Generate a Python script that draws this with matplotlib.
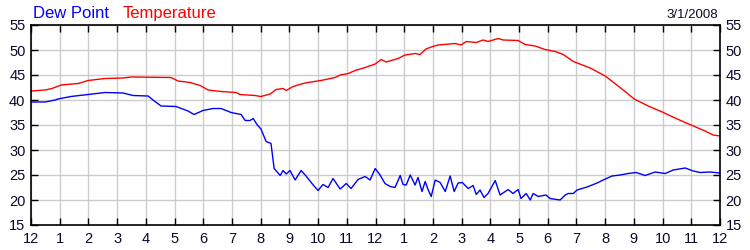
import matplotlib.pyplot as plt
plt.switch_backend('agg')

plt.rcParams['font.family'] = ['Liberation Sans', 'DejaVu Sans']

# Hours since midnight (0 = 12 AM, 24 = 12 AM next day) and readings in F
temp_hours = [0.0, 0.49, 0.73, 1.05, 1.64, 1.99, 2.58, 3.21, 3.48, 4.88, 5.12, 5.54, 5.89, 6.17,
              6.62, 7.14, 7.28, 7.80, 8.01, 8.33, 8.54, 8.78, 8.89, 9.13, 9.48, 9.65, 10.10,
              10.59, 10.77, 11.05, 11.29, 11.64, 11.99, 12.20, 12.37, 12.61, 12.79, 13.03,
              13.38, 13.55, 13.76, 13.94, 14.18, 14.77, 14.98, 15.16, 15.51, 15.75, 15.92,
              16.27, 16.45, 16.97, 17.21, 17.56, 17.91, 18.26, 18.54, 18.89, 19.48, 20.0,
              20.52, 21.01, 21.50, 21.99, 22.47, 22.99, 23.48, 23.76, 24.0]
temperature = [41.8, 42.0, 42.3, 43.0, 43.3, 43.9, 44.3, 44.4, 44.6, 44.5, 43.8, 43.5, 42.9, 42.0,
               41.7, 41.5, 41.1, 40.9, 40.7, 41.2, 42.1, 42.3, 41.9, 42.7, 43.3, 43.5, 43.9,
               44.5, 45.0, 45.3, 45.9, 46.5, 47.2, 48.1, 47.6, 48.0, 48.3, 49.0,
               49.3, 49.1, 50.2, 50.6, 51.0, 51.3, 51.0, 51.7, 51.5, 52.0, 51.7,
               52.3, 52.0, 51.9, 51.1, 50.8, 50.1, 49.7, 49.1, 47.7, 46.4, 44.8,
               42.5, 40.2, 38.8, 37.6, 36.3, 35.0, 33.8, 33.0, 32.8]

dew_hours = [0.0, 0.49, 0.84, 0.94, 1.39, 1.99, 2.58, 3.21, 3.55, 4.08, 4.25, 4.53, 5.05, 5.47,
             5.68, 5.99, 6.34, 6.62, 6.97, 7.14, 7.32, 7.46, 7.63, 7.74, 7.87, 8.01, 8.19,
             8.36, 8.47, 8.68, 8.78, 8.89, 9.02, 9.20, 9.41, 9.58, 9.83, 10.00, 10.17, 10.35,
             10.52, 10.77, 10.98, 11.15, 11.39, 11.64, 11.81, 11.99, 12.16, 12.33, 12.51,
             12.68, 12.86, 12.96, 13.07, 13.21, 13.38, 13.48, 13.62, 13.73, 13.83, 13.94,
             14.08, 14.25, 14.43, 14.60, 14.74, 14.88, 15.02, 15.23, 15.40, 15.51, 15.64,
             15.78, 15.92, 16.17, 16.34, 16.62, 16.79, 16.97, 17.07, 17.25, 17.39, 17.49,
             17.67, 17.94, 18.08, 18.43, 18.61, 18.71, 18.89, 19.02, 19.37, 19.72, 19.93,
             20.24, 20.52, 20.80, 21.08, 21.39, 21.74, 22.09, 22.37, 22.79, 23.07, 23.31,
             23.66, 24.0]
dew_point = [39.6, 39.6, 40.0, 40.2, 40.7, 41.1, 41.5, 41.4, 40.9, 40.8, 40.0, 38.8, 38.7, 37.8,
             37.1, 37.9, 38.3, 38.3, 37.5, 37.3, 37.1, 35.9, 35.9, 36.3, 35.1, 34.2, 31.7,
             31.3, 26.3, 24.9, 25.9, 25.2, 25.9, 24.0, 25.9, 24.8, 23.0, 21.9, 23.1, 22.5,
             24.3, 22.2, 23.3, 22.3, 24.1, 24.7, 24.0, 26.3, 25.0, 23.3, 22.7,
             22.5, 24.9, 23.1, 23.0, 25.0, 23.0, 24.5, 21.7, 23.7, 22.1, 20.7,
             24.0, 23.5, 21.7, 24.8, 21.7, 23.4, 23.5, 22.3, 22.9, 21.1, 22.0,
             20.5, 21.3, 23.9, 21.0, 22.1, 21.3, 22.1, 20.3, 21.3, 20.0, 21.3,
             20.7, 21.0, 20.3, 20.0, 21.0, 21.3, 21.3, 22.0, 22.6, 23.4, 24.0,
             24.8, 25.0, 25.3, 25.5, 24.9, 25.6, 25.3, 26.0, 26.4, 25.8, 25.5,
             25.6, 25.4]

hour_ticks = list(range(0, 25))
hour_labels = ['12', '1', '2', '3', '4', '5', '6', '7', '8', '9', '10', '11',
               '12', '1', '2', '3', '4', '5', '6', '7', '8', '9', '10', '11', '12']
y_ticks = [15, 20, 25, 30, 35, 40, 45, 50, 55]
date_label = '3/1/2008'

label_color = '#0a0a28'

fig = plt.figure(figsize=(7.5, 2.5), dpi=100)
ax = fig.add_axes([31/750, 25/250, 689/750, 200/250])

ax.plot(dew_hours, dew_point, color='#0000ff', lw=1.0)
ax.plot(temp_hours, temperature, color='#ff0000', lw=1.0)

ax.set_xlim(0, 24)
ax.set_ylim(15, 55)
ax.set_xticks(hour_ticks)
ax.set_xticklabels(hour_labels)
ax.set_yticks(y_ticks)
ax.grid(True, color='#cccccc', lw=1.0)
ax.set_axisbelow(True)

ax.tick_params(axis='both', direction='in', length=5, width=1, color='black',
               labelsize=10.5, labelcolor=label_color,
               top=True, right=True, labelright=True)
ax.tick_params(axis='x', pad=5)
ax.tick_params(axis='y', pad=4)
for s in ax.spines.values():
    s.set_color('black')
    s.set_linewidth(1.2)

fig.text(33/750, 1 - 18/250, 'Dew Point', color='#0000ff', fontsize=12, va='baseline')
fig.text(123/750, 1 - 18/250, 'Temperature', color='#ff0000', fontsize=12, va='baseline')
fig.text(718/750, 1 - 18/250, date_label, color=label_color, fontsize=9.5, va='baseline', ha='right')

fig.savefig('out.png', dpi=100)
plt.close()
